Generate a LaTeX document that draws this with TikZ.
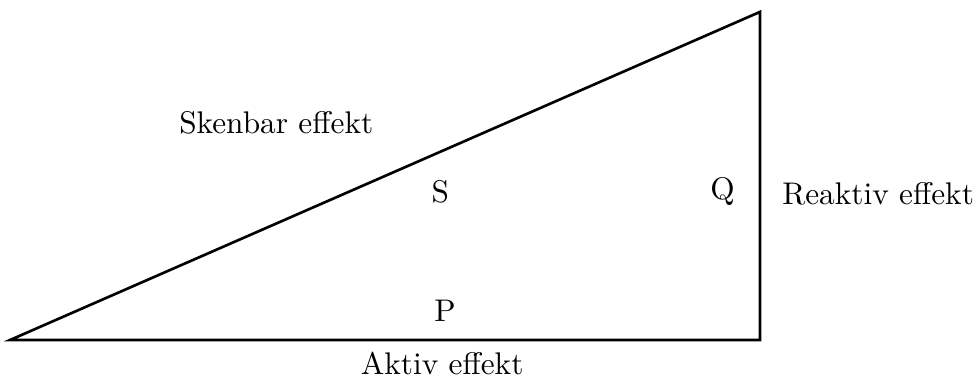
\documentclass[tikz,border=0pt]{standalone}
\usepackage{amsmath, amssymb}
\usepackage{tikz}
\usetikzlibrary{arrows.meta, positioning, calc}

\begin{document}
\begin{tikzpicture}[every node/.style={font=\fontsize{9.5pt}{11pt}\selectfont}]
			\useasboundingbox (-0.107,-0.384) rectangle (10.283,3.627);
			\tikzset{side/.style={thick, line join=miter}}
			
			\coordinate (A) at (0,0);
			\coordinate (B) at (8,0);
			\coordinate (C) at (8,3.5);
			
			\draw[side] (A) -- (B) -- (C) -- cycle;
			
			\node (s) at (4.59,1.58) {S};
			\node (q) at (7.6,1.58) {Q};
			\node (p) at (4.64,0.31) {P};
			
			\node (skenbar) at (2.84,2.32) {Skenbar effekt};
			\node (reaktiv) at (9.26,1.56) {Reaktiv effekt};
			\node (aktiv) at (4.61,-0.25) {Aktiv effekt};
		\end{tikzpicture}
\end{document}
